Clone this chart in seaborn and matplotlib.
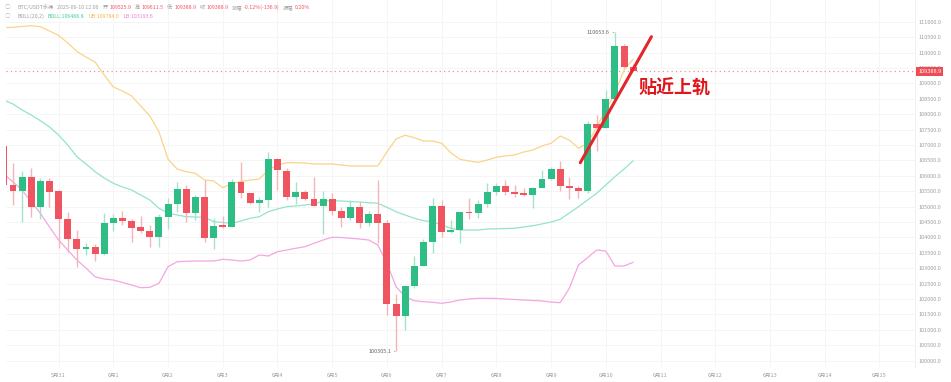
import matplotlib
matplotlib.use("Agg")
import matplotlib.pyplot as plt
import seaborn as sns
import numpy as np
import pandas as pd

# ---------------- data (4h candles, 2025-05-30 00:00 .. 2025-06-10 12:00) ----------------
opens = [106966, 105701, 105516, 105970, 104977, 105831, 105506, 104588, 103939, 103624,
         103689, 103452, 104477, 104640, 104542, 104328, 104218, 104013, 104653, 105074,
         105561, 104782, 105321, 103991, 104393, 104348, 105808, 105431, 105126, 105224,
         106544, 106165, 105321, 105464, 105246, 105029, 105237, 104857, 104620, 104977,
         104458, 104750, 104477, 101839, 101450, 102433, 103072, 103851, 105019, 104176,
         104231, 104825, 104792, 105084, 105483, 105678, 105483, 105441, 105376, 105613,
         105905, 106230, 105668, 105613, 105516, 107690, 107560, 108501, 110221, 109525.9]
highs = [107050, 106405, 106165, 106243, 105918, 105918, 105530, 104834, 104240, 103809,
         103786, 104782, 104750, 104857, 104597, 104695, 104403, 104750, 105269, 105808,
         105701, 105376, 105863, 104640, 104695, 105895, 106457, 105451, 105321, 106762,
         106587, 106243, 105788, 105539, 105951, 105516, 105431, 104997, 105214, 105159,
         104857, 105863, 104565, 102154, 102456, 103397, 103939, 105269, 105214, 104565,
         104834, 105269, 105214, 105756, 105775, 105863, 105701, 105594, 105646, 106188,
         106295, 106480, 105970, 105678, 107778, 107972, 108783, 110653.6, 110276, 109611.5]
lows = [105650, 105052, 104510, 104672, 104588, 104977, 103647, 103536, 103030, 103429,
        103244, 103440, 104218, 104403, 103861, 104133, 103699, 103699, 104263, 104834,
        104510, 104565, 103861, 103614, 104315, 104340, 105269, 105084, 104815, 104977,
        105539, 105214, 105074, 105214, 105020, 104111, 104727, 104348, 104565, 104315,
        104370, 103809, 101482, 100305.1, 100995, 102349, 103060, 103484, 104004, 104133,
        103809, 104588, 104620, 104997, 105376, 105376, 105321, 105344, 104945, 105594,
        105863, 105516, 105246, 105269, 105431, 106814, 107550, 108490, 109488, 109388.9]
closes = [105701, 105516, 105970, 104977, 105831, 105483, 104588, 103939, 103624, 103699,
          103452, 104477, 104640, 104542, 104315, 104218, 104013, 104653, 105074, 105561,
          104783, 105321, 103991, 104370, 104338, 105808, 105451, 105128, 105224, 106544,
          106188, 105321, 105464, 105247, 105029, 105246, 104857, 104620, 104977, 104458,
          104750, 104477, 101839, 101450, 102433, 103072, 103851, 105019, 104185, 104231,
          104815, 104792, 105084, 105483, 105678, 105483, 105418, 105376, 105613, 105905,
          106230, 105668, 105613, 105516, 107690, 107560, 108501, 110221, 109526, 109388.9]

boll_upper = [110805, 110818, 110844, 110870, 110838, 110698, 110552, 110309, 110033, 109854,
              109692, 109270, 108881, 108751, 108589, 108264, 107940, 107430, 106535, 106220,
              106132, 106080, 105863, 105831, 105613, 105756, 105808, 105863, 105895, 106187,
              106350, 106424, 106424, 106415, 106382, 106382, 106382, 106350, 106317, 106317,
              106317, 106317, 106772, 107193, 107314, 107236, 107129, 107129, 107054, 106749,
              106535, 106480, 106437, 106512, 106600, 106642, 106674, 106772, 106836, 106966,
              107054, 107291, 107161, 106892, 107054, 107583, 108134, 108686, 109432, 109784.0]
boll_mid = [108459, 108329, 108134, 107972, 107787, 107583, 107323, 106999, 106619, 106382,
            106132, 105928, 105756, 105636, 105538, 105376, 105214, 104945, 104792, 104727,
            104672, 104662, 104653, 104510, 104484, 104458, 104533, 104620, 104672, 104834,
            104922, 104997, 105019, 105052, 105084, 105182, 105191, 105182, 105159, 105149,
            105126, 105107, 104977, 104834, 104727, 104620, 104542, 104510, 104403, 104296,
            104240, 104240, 104240, 104273, 104279, 104289, 104296, 104338, 104380, 104435,
            104500, 104588, 104792, 104997, 105214, 105431, 105701, 105970, 106220, 106488.8]
boll_lower = [106058, 105798, 105538, 105149, 104782, 104338, 103916, 103591, 103267, 103007,
              102725, 102650, 102618, 102537, 102456, 102368, 102381, 102511, 103050, 103212,
              103225, 103235, 103235, 103235, 103290, 103267, 103235, 103267, 103429, 103397,
              103536, 103591, 103647, 103699, 103809, 103916, 104004, 103997, 103971, 103948,
              103916, 103754, 103160, 102401, 102076, 101946, 101914, 101894, 101862, 101904,
              101969, 102001, 102024, 102024, 102018, 102001, 101985, 101969, 101953, 101937,
              101904, 101881, 102349, 103105, 103342, 103591, 103559, 103072, 103072, 103193.6]

day_labels = ["5月31", "6月1", "6月2", "6月3", "6月4", "6月5", "6月6", "6月7", "6月8",
              "6月9", "6月10", "6月11", "6月12", "6月13", "6月14", "6月15"]
price_ticks = [100000 + 500 * k for k in range(23)]

trend_x = [63.2, 71.0]
trend_y = [106424, 110513]

# ---------------- style ----------------
sns.set_theme(style="white")
plt.rcParams["font.family"] = ["Noto Sans CJK SC", "DejaVu Sans"]
plt.rcParams["axes.unicode_minus"] = False

GREEN = "#2ebd85"
RED = "#ef5560"
GREEN_W = "#a6e2ca"
RED_W = "#f7b3b8"
UB_C = "#fbd38a"
MID_C = "#93e3cf"
LB_C = "#f4a6e0"
GREY = "#a0a0a0"

W, H = 951, 382
fig = plt.figure(figsize=(W / 100, H / 100), dpi=100)
ax_left, ax_right, ax_top, ax_bot = 6, 915, 0, 368
ax = fig.add_axes([ax_left / W, (H - ax_bot) / H, (ax_right - ax_left) / W, (ax_bot - ax_top) / H])

n = len(opens)
df = pd.DataFrame({"i": np.arange(n), "open": opens, "high": highs, "low": lows, "close": closes,
                   "ub": boll_upper, "mid": boll_mid, "lb": boll_lower})

# grid
for k in range(len(day_labels)):
    ax.axvline(6 + 6 * k, color="#f4f4f4", lw=0.6, zorder=0)
for p in price_ticks:
    ax.axhline(p, color="#f4f4f4", lw=0.6, zorder=0)

# bollinger lines
sns.lineplot(data=df, x="i", y="ub", ax=ax, color=UB_C, lw=0.9, zorder=2)
sns.lineplot(data=df, x="i", y="mid", ax=ax, color=MID_C, lw=0.9, zorder=2)
sns.lineplot(data=df, x="i", y="lb", ax=ax, color=LB_C, lw=0.9, zorder=2)

# candles
up = df["close"] >= df["open"]
ax.vlines(df["i"][up], df["low"][up], df["high"][up], color=GREEN_W, lw=1.0, zorder=3)
ax.vlines(df["i"][~up], df["low"][~up], df["high"][~up], color=RED_W, lw=1.0, zorder=3)
body_bottom = np.minimum(df["open"], df["close"])
body_h = np.maximum(np.abs(df["close"] - df["open"]), 30)
ax.bar(df["i"][up], body_h[up], bottom=body_bottom[up], width=0.76, color=GREEN, lw=0, zorder=4)
ax.bar(df["i"][~up], body_h[~up], bottom=body_bottom[~up], width=0.76, color=RED, lw=0, zorder=4)

last_close = closes[-1]
ax.axhline(last_close, color="#f08d93", lw=0.9, ls=(0, (1, 2.5)), zorder=1)

# high / low markers
hi_i = int(np.argmax(highs))
lo_i = int(np.argmin(lows))
ax.annotate(f"{highs[hi_i]:.1f}", xy=(hi_i - 0.1, highs[hi_i]), xytext=(-3, 0),
            textcoords="offset points", ha="right", va="center", fontsize=4, color="#666666",
            arrowprops=dict(arrowstyle="-", color="#888888", lw=0.5, shrinkA=0, shrinkB=0))
ax.annotate(f"{lows[lo_i]:.1f}", xy=(lo_i - 0.1, lows[lo_i]), xytext=(-3, 0),
            textcoords="offset points", ha="right", va="center", fontsize=4, color="#666666",
            arrowprops=dict(arrowstyle="-", color="#888888", lw=0.5, shrinkA=0, shrinkB=0))

# trend annotation
ax.plot(trend_x, trend_y, color="#e4262b", lw=2.2, solid_capstyle="round", zorder=6)
ax.text(69.6, 108850, "贴近上轨", color="#e0161c", fontsize=13, fontweight="bold",
        ha="left", va="center", zorder=7)

# axes
ax.set_xlim((6 - 3.9) / 9.12, (915 - 3.9) / 9.12)
ax.set_ylim(111704 - 32.45 * 368, 111704)
ax.set_xticks([6 + 6 * k for k in range(len(day_labels))])
ax.set_xticklabels(day_labels)
ax.set_yticks(price_ticks)
ax.set_yticklabels([f"{p:.1f}" for p in price_ticks])
ax.yaxis.tick_right()
ax.tick_params(axis="both", length=0, labelsize=4, labelcolor=GREY)
ax.tick_params(axis="x", pad=3.5)
ax.tick_params(axis="y", pad=2.5)
ax.set_xlabel("")
ax.set_ylabel("")
for s in ["top", "left", "bottom"]:
    ax.spines[s].set_visible(False)
ax.spines["right"].set_color("#eeeeee")
ax.spines["right"].set_linewidth(0.6)

# last price tag
ax.annotate(f"{last_close:.1f}", xy=(1.0, last_close), xycoords=("axes fraction", "data"),
            xytext=(2.2, 0), textcoords="offset points", ha="left", va="center",
            fontsize=4, color="white",
            bbox=dict(boxstyle="square,pad=0.35", fc="#ee4b55", ec="none"))

# header (laid out sequentially)
renderer = fig.canvas.get_renderer()

def chain(x, y, parts, fs=3.8):
    for s, c, gap in parts:
        t = fig.text(x / W, 1 - y / H, s, color=c, fontsize=fs, va="center", ha="left")
        bb = t.get_window_extent(renderer=renderer)
        x = x + bb.width + gap

fig.text(5 / W, 1 - 7.3 / H, "◯", color="#b8b8b8", fontsize=4, va="center", ha="left")
fig.text(5 / W, 1 - 16 / H, "◯", color="#b8b8b8", fontsize=4, va="center", ha="left")
chain(17, 7.3, [("BTC/USDT永续", GREY, 4), ("2025-06-10 12:00", GREY, 4),
                ("开", GREY, 1.5), ("109525.9", RED, 3.5),
                ("高", GREY, 1.5), ("109611.5", RED, 3.5),
                ("低", GREY, 1.5), ("109388.9", RED, 3.5),
                ("收", GREY, 1.5), ("109388.9", RED, 3.5),
                ("涨幅", GREY, 1.5), ("-0.12%(-136.9)", RED, 3.5),
                ("振幅", GREY, 1.5), ("0.20%", RED, 0)])
chain(17, 16, [("BOLL(20,2)", GREY, 4), ("BOLL:106488.8", "#3ccfa5", 4),
               ("UB:109784.0", "#f5b443", 4), ("LB:103193.6", "#e97fd6", 0)])

fig.savefig("out.png", dpi=100)
